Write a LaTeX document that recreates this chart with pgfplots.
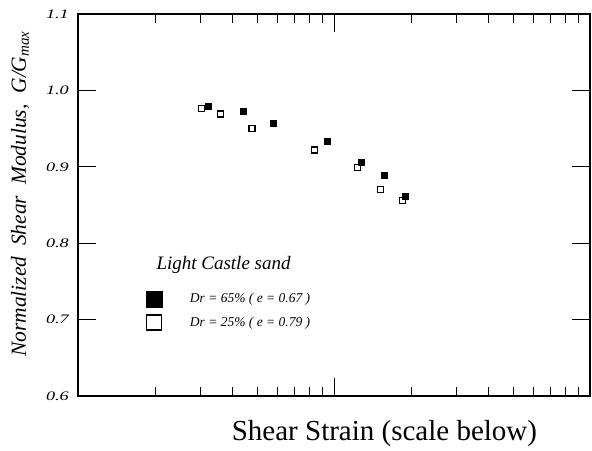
\documentclass[border=0pt]{standalone}
\usepackage{pgfplots}
\pgfplotsset{compat=1.18}
\usepackage{fontspec}
\setmainfont{Liberation Serif}
\begin{document}
\begin{tikzpicture}
\begin{axis}[
  scale only axis, width=512pt, height=382pt,
  xmode=log, xmin=1e-4, xmax=1e-2,
  ymin=0.6, ymax=1.1,
  xtick={1e-4,1e-3,1e-2}, xticklabels={},
  ytick={0.6,0.7,0.8,0.9,1.0,1.1},
  yticklabels={0.6,0.7,0.8,0.9,1.0,1.1},
  yticklabel style={font=\fontsize{13}{15}\selectfont\itshape, xscale=1.4, xshift=-3pt},
  major tick length=18pt, minor tick length=9pt,
  axis line style={line width=1.4pt},
  tick style={line width=0.8pt, black},
  clip=false,
  legend style={draw=none, fill=none, at={(rel axis cs:0.125,0.281)}, anchor=north west,
    font=\fontsize{13.5}{15}\selectfont\itshape, row sep=8pt},
  legend cell align=left,
  legend image code/.code={\draw[#1] plot coordinates {(0.3cm,0cm)}; \path (0cm,0cm) (1.49cm,0cm);},
]
% Dr = 65%
\addplot[only marks, mark=square*, mark size=3pt, black,
  legend image post style={mark size=8pt}] coordinates {
(3.23e-4,0.9796) (4.41e-4,0.973) (5.81e-4,0.9564) (9.45e-4,0.9334)
(1.28e-3,0.9059) (1.57e-3,0.8889) (1.90e-3,0.8618)};
% Dr = 25%
\addplot[only marks, mark=square, mark size=3pt, black, mark options={line width=1.4pt},
  legend image post style={mark size=7.5pt}] coordinates {
(3.04e-4,0.976) (3.61e-4,0.969) (4.78e-4,0.9504) (8.41e-4,0.922)
(1.233e-3,0.8993) (1.517e-3,0.870) (1.849e-3,0.8556)};
\legend{Dr = 65\% ( e = 0.67 ), Dr = 25\% ( e = 0.79 )}

\node[anchor=west, font=\fontsize{19}{22}\selectfont\itshape] at (rel axis cs:0.1465,0.343) {Light Castle sand};
\node[anchor=base, font=\fontsize{29}{33}\selectfont] at (rel axis cs:0.5986,-0.1178) {Shear Strain (scale below)};
\node[rotate=90, font=\fontsize{21.5}{24}\selectfont\itshape] at (rel axis cs:-0.1133,0.529)
  {Normalized\ \ Shear\ \ Modulus,\ \ G/G\textsubscript{max}};
\coordinate (bl) at (rel axis cs:-0.1523,-0.144);
\coordinate (tr) at (rel axis cs:1.0039,1.0366);
\end{axis}
\pgfresetboundingbox
\path (bl) rectangle (tr);
\end{tikzpicture}
\end{document}
